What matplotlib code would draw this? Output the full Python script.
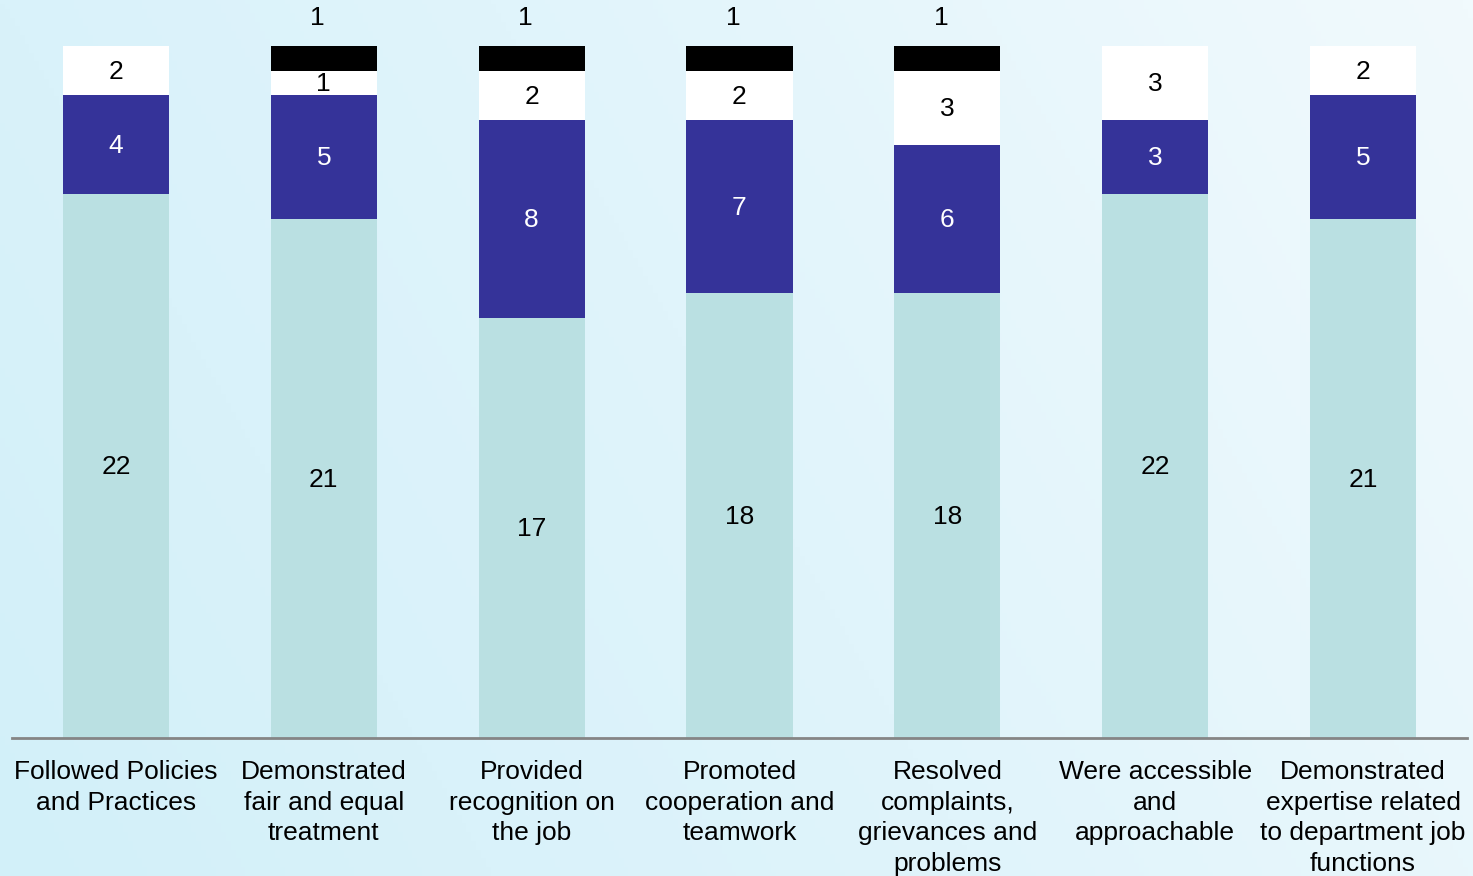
import numpy as np
import matplotlib.pyplot as plt
from matplotlib.colors import LinearSegmentedColormap

plt.rcParams['font.family'] = ['Liberation Sans', 'DejaVu Sans']

categories = ["Followed Policies\nand Practices",
              "Demonstrated\nfair and equal\ntreatment",
              "Provided\nrecognition on\nthe job",
              "Promoted\ncooperation and\nteamwork",
              "Resolved\ncomplaints,\ngrievances and\nproblems",
              "Were accessible\nand\napproachable",
              "Demonstrated\nexpertise related\nto department job\nfunctions"]
s_teal = [22, 21, 17, 18, 18, 22, 21]
s_blue = [4, 5, 8, 7, 6, 3, 5]
s_white = [2, 1, 2, 2, 3, 3, 2]
s_black = [0, 1, 1, 1, 1, 0, 0]

fig = plt.figure(figsize=(14.73, 8.76), dpi=100)

# soft blue backdrop, more cyan on the left fading to white on the right
bg = fig.add_axes([0, 0, 1, 1])
bg.set_axis_off()
gx, gy = np.meshgrid(np.linspace(0, 1, 300), np.linspace(0, 1, 200))
grad = np.clip(0.75 * gx + 0.25 * (1 - gy), 0, 1)
cmap = LinearSegmentedColormap.from_list('bgc', ['#d2f0f9', '#e0f4fb', '#f1fafd'])
bg.imshow(grad, cmap=cmap, aspect='auto', extent=[0, 1, 0, 1], origin='upper')

ax = fig.add_axes([12 / 1473, (876 - 738) / 876, 1455 / 1473, 692 / 876])
ax.patch.set_alpha(0)
x = np.arange(len(categories))
w = 0.51
bottoms = np.zeros(len(x))
segs = [(s_teal, '#bae0e2', 'black'),
        (s_blue, '#353399', 'white'),
        (s_white, '#ffffff', 'black'),
        (s_black, '#000000', 'black')]
for vals, col, tcol in segs:
    vals = np.array(vals)
    ax.bar(x, vals, w, bottom=bottoms, color=col, edgecolor='none')
    for i, v in enumerate(vals):
        if v == 0:
            continue
        if col == '#000000':
            # value of the thin black cap sits above the bar
            xpos = x[i] - 0.03
            ypos = bottoms[i] + v + 1.14
        else:
            xpos = x[i]
            ypos = bottoms[i] + v / 2 - 0.05
        ax.text(xpos, ypos, str(v), ha='center', va='center', color=tcol,
                fontsize=19, clip_on=False)
    bottoms = bottoms + vals

ax.set_xlim(-0.5, len(x) - 0.5)
ax.set_ylim(0, 28)
for sp in ['top', 'right', 'left']:
    ax.spines[sp].set_visible(False)
ax.spines['bottom'].set_color('#858585')
ax.spines['bottom'].set_linewidth(2)
ax.set_yticks([])
ax.set_xticks([])
for i, lab in enumerate(categories):
    ax.text(x[i], -0.9, lab, ha='center', va='top', fontsize=19,
            linespacing=1.34, color='black', clip_on=False)

fig.savefig('out.png', dpi=100)
